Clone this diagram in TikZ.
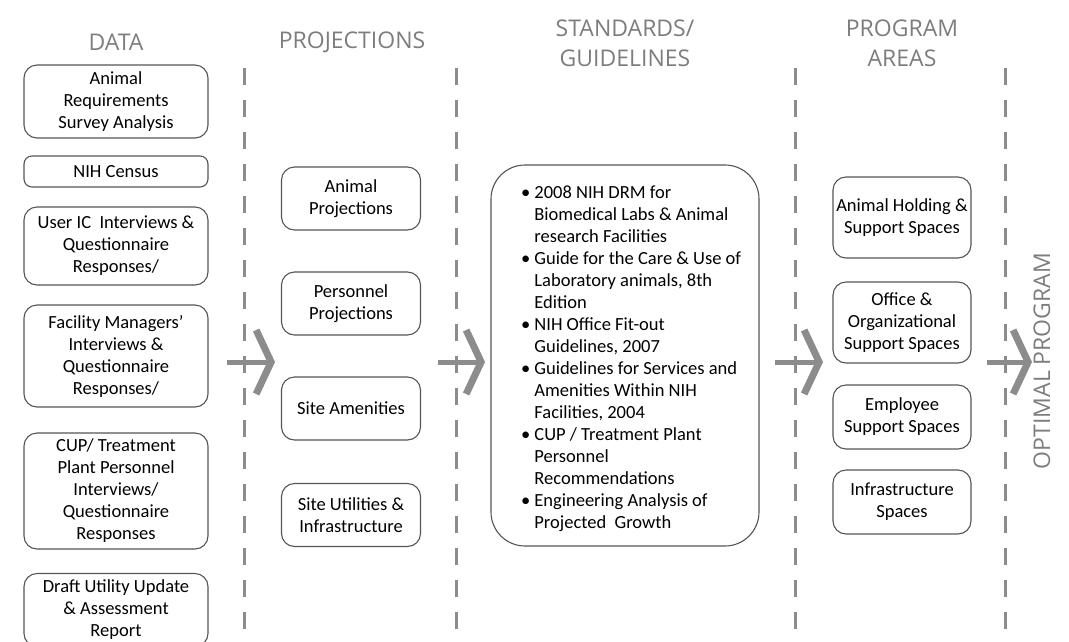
\documentclass[tikz,border=0pt]{standalone}
\usepackage{fontspec}
\setmainfont{Carlito}
\newfontfamily\headfont{Open Sans}
\usetikzlibrary{arrows.meta}
\definecolor{boxGray}{RGB}{85,85,85}
\definecolor{lineGray}{RGB}{140,140,140}
\definecolor{headGray}{RGB}{125,125,125}

\begin{document}
\begin{tikzpicture}[x=1pt,y=-1pt,
                box/.style={draw=boxGray,line width=1.1pt,rounded corners=13pt,align=center,
                           font=\fontsize{18.5}{22}\selectfont,inner sep=2pt},
                head/.style={font=\headfont\fontsize{23}{30}\selectfont,text=headGray,align=center},
                sep/.style={lineGray,line width=3pt,dash pattern=on 17pt off 15pt},
                flow/.style={lineGray,line width=5pt,-{Straight Barb[length=15pt,width=64pt,line width=7pt]}}
            ]
                \useasboundingbox (0,0) rectangle (1069,641);
                \clip (0,0) rectangle (1069,641);
                % headings
                \node[head] (hdata) at (116,42) {DATA};
                \node[head] (hproj) at (352,42) {PROJECTIONS};
                \node[head] (hstd) at (625,43) {STANDARDS/\\GUIDELINES};
                \node[head] (hprog) at (902,43) {PROGRAM\\AREAS};
                \node[head,rotate=90] (hopt) at (1042,361) {OPTIMAL PROGRAM};
                
                % separators
                \foreach \x in {244,456,795,1005}
                    \draw[sep] (\x,68) -- (\x,641);
                
                % data
                \node[box,minimum width=184,minimum height=73] (animalreq) at (116,101.5) {Animal\\Requirements\\Survey Analysis};
                \node[box,minimum width=184,minimum height=31,rounded corners=8pt] (census) at (116,171.5) {NIH Census};
                \node[box,minimum width=184,minimum height=78] (useric) at (116,246) {User IC\ \ Interviews \&\\Questionnaire\\Responses/};
                \node[box,minimum width=184,minimum height=102] (facmgr) at (116,356) {Facility Managers'\\Interviews \&\\Questionnaire\\Responses/};
                \node[box,minimum width=184,minimum height=116] (cup) at (116,491) {CUP/ Treatment\\Plant Personnel\\Interviews/\\Questionnaire\\Responses};
                \node[box,minimum width=184,minimum height=73] (draft) at (116,610) {Draft Utility Update\\\& Assessment\\Report};
                
                % projections
                \node[box,minimum width=139,minimum height=63] (animalproj) at (351,198.5) {Animal\\Projections};
                \node[box,minimum width=139,minimum height=63] (persproj) at (351,303.5) {Personnel\\Projections};
                \node[box,minimum width=139,minimum height=63] (amenities) at (351,408.5) {Site Amenities};
                \node[box,minimum width=139,minimum height=63] (utilities) at (351,515) {Site Utilities \&\\Infrastructure};
                
                % standards / guidelines
                \node[box,minimum width=268,minimum height=381,rounded corners=34pt] (std) at (625,355.5) {};
                \node[font=\fontsize{18.5}{22}\selectfont,anchor=north west,inner sep=0pt] (stdtxt) at (521,183) {%
                    \begin{tabular}{@{}l@{\hspace{4pt}}l@{}}
                    \textbullet & 2008 NIH DRM for\\
                    & Biomedical Labs \& Animal\\
                    & research Facilities\\
                    \textbullet & Guide for the Care \& Use of\\
                    & Laboratory animals, 8th\\
                    & Edition\\
                    \textbullet & NIH Office Fit-out\\
                    & Guidelines, 2007\\
                    \textbullet & Guidelines for Services and\\
                    & Amenities Within NIH\\
                    & Facilities, 2004\\
                    \textbullet & CUP / Treatment Plant\\
                    & Personnel\\
                    & Recommendations\\
                    \textbullet & Engineering Analysis of\\
                    & Projected\ \ Growth
                    \end{tabular}};
                
                % program areas
                \node[box,minimum width=138,minimum height=81] (holding) at (902,217.5) {Animal Holding \&\\Support Spaces};
                \node[box,minimum width=138,minimum height=81] (office) at (902,322.5) {Office \&\\Organizational\\Support Spaces};
                \node[box,minimum width=138,minimum height=64] (employee) at (902,417) {Employee\\Support Spaces};
                \node[box,minimum width=138,minimum height=64] (infra) at (902,502) {Infrastructure\\Spaces};
                
                % flow arrows
                \coordinate (f1a) at (227,362); \coordinate (f1b) at (275,362);
                \coordinate (f2a) at (438,362); \coordinate (f2b) at (485,362);
                \coordinate (f3a) at (775,362); \coordinate (f3b) at (823,362);
                \coordinate (f4a) at (987,362); \coordinate (f4b) at (1032,362);
                \draw[flow] (f1a) -- (f1b);
                \draw[flow] (f2a) -- (f2b);
                \draw[flow] (f3a) -- (f3b);
                \draw[flow] (f4a) -- (f4b);
            \end{tikzpicture}
\end{document}
